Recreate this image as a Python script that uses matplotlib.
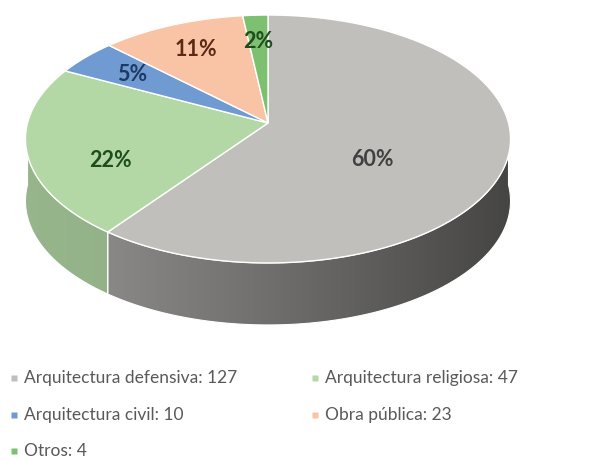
import numpy as np
import matplotlib.pyplot as plt
from matplotlib.patches import Polygon
from matplotlib.colors import LinearSegmentedColormap, to_rgb

# Datos
categorias = ["Arquitectura defensiva", "Arquitectura religiosa", "Arquitectura civil", "Obra pública", "Otros"]
valores = [127, 47, 10, 23, 4]
colores = ["#c0bfbc", "#b3d8a6", "#6f9bd2", "#f9c4a6", "#7dc070"]
colores_texto = ["#404040", "#1d4d1d", "#1f3864", "#5a2a16", "#1d4d1d"]

W, H = 608, 461
cx, cy = 268, 123       # vértice del pastel
a, k, p = 240.5, 121.9, 0.129   # semiejes y perspectiva
prof = 62               # grosor del pastel


def proyectar(r, ang):
    u = r * np.cos(ang)
    v = r * np.sin(ang)
    d = 1 + p * v
    return cx + a * u / d, cy - k * v / d


fig = plt.figure(figsize=(W / 100, H / 100), dpi=100)
ax = fig.add_axes([0, 0, 1, 1])
ax.set_xlim(0, W)
ax.set_ylim(H, 0)
ax.axis("off")

total = sum(valores)
fracs = np.array(valores) / total
cum = np.concatenate([[0], np.cumsum(fracs)])
ini = np.deg2rad(90 - 360 * cum[:-1])
fin = np.deg2rad(90 - 360 * cum[1:])

# Lados (parte delantera)
for i in range(len(valores)):
    lo, hi = fin[i], ini[i]
    for f0, f1 in [(-np.pi, 0), (np.pi, 2 * np.pi), (-3 * np.pi, -2 * np.pi)]:
        s0, s1 = max(lo, f0), min(hi, f1)
        if s1 <= s0:
            continue
        t = np.linspace(s0, s1, 120)
        xs, ys = proyectar(1.0, t)
        px = np.concatenate([xs, xs[::-1]])
        py = np.concatenate([ys, ys[::-1] + prof])
        poly = Polygon(np.column_stack([px, py]), closed=True, facecolor="none",
                       edgecolor="white", lw=0.8, zorder=2)
        ax.add_patch(poly)
        base = np.array(to_rgb(colores[i]))
        # degradado horizontal: claro a la izquierda, oscuro a la derecha
        x0, x1 = 25, 512
        if i == 0:
            tonos = [base * 0.78, base * 0.58, base * 0.36]
        else:
            tonos = [base * 0.84, base * 0.8, base * 0.7]
        cmap = LinearSegmentedColormap.from_list("lado%d" % i, tonos)
        grad = np.linspace(0, 1, 256).reshape(1, -1)
        im = ax.imshow(grad, cmap=cmap, extent=[x0, x1, py.max(), py.min()],
                       aspect="auto", zorder=1, interpolation="bilinear")
        im.set_clip_path(poly)

# Cara superior
for i in range(len(valores)):
    t = np.linspace(ini[i], fin[i], 200)
    xs, ys = proyectar(1.0, t)
    px = np.concatenate([[cx], xs])
    py = np.concatenate([[cy], ys])
    ax.add_patch(Polygon(np.column_stack([px, py]), closed=True, facecolor=colores[i],
                         edgecolor="white", lw=1.0, zorder=3))

# Etiquetas de porcentaje
for i in range(len(valores)):
    mid = (ini[i] + fin[i]) / 2
    if fracs[i] > 0.5:
        r_lab = 0.45
    elif np.sin(mid) < 0:
        r_lab = 0.66
    else:
        r_lab = 0.73
    x, y = proyectar(r_lab, mid)
    if np.sin(mid) < 0:
        y += prof * 0.3
    ax.text(x, y, "%d%%" % round(fracs[i] * 100), ha="center", va="center",
            fontsize=15.5, fontweight="bold", color=colores_texto[i], family="Lato", zorder=4)

# Leyenda
orden_filas = [(0, 0), (0, 1), (1, 0), (1, 1), (2, 0)]
for i, (fila, col) in enumerate(orden_filas):
    x = 14 + col * 301
    y = 378 + fila * 36.5
    ax.plot(x, y, marker="s", ms=4.5, color=colores[i], mec="none", zorder=4)
    ax.text(x + 10, y, "%s: %d" % (categorias[i], valores[i]), ha="left", va="center",
            fontsize=12.5, color="#595959", family="Lato")

fig.savefig("out.png", dpi=100, facecolor="white")
